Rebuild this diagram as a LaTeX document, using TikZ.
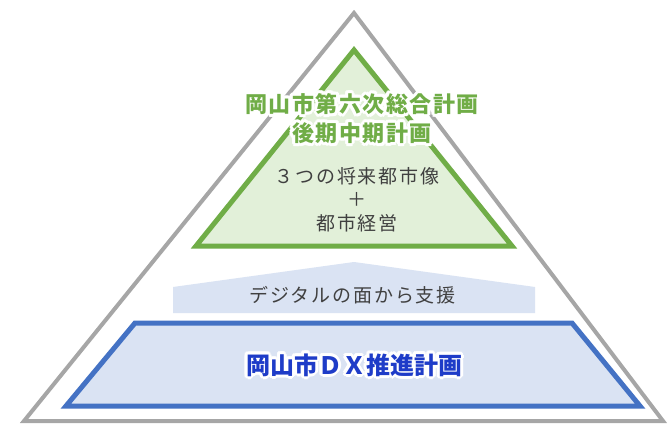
\documentclass[tikz,border=0pt]{standalone}
\usepackage{fontspec}
\newfontfamily\jp{Noto Sans CJK JP}
\begin{document}
\begin{tikzpicture}[x=1pt,y=-1pt]
\definecolor{framegray}{HTML}{A6A6A6}
\definecolor{plangreen}{HTML}{70AD47}
\definecolor{planfill}{HTML}{E2F0D9}
\definecolor{dxblue}{HTML}{4472C4}
\definecolor{dxfill}{HTML}{DAE3F3}
\definecolor{dxtext}{HTML}{1E3CC8}
\definecolor{bodytext}{HTML}{404040}
\tikzset{titlefont/.style={font = \jp\bfseries\fontsize{22}{29}\selectfont\addfontfeatures{LetterSpace=7}},
         bodyfont/.style={font = \jp\fontsize{19}{23.5}\selectfont\addfontfeatures{LetterSpace=10}},
         dxfont/.style={font = \jp\bfseries\fontsize{24}{27}\selectfont}}
\useasboundingbox (0,0) rectangle (669,425);
\draw [draw = framegray, fill = white, line width = 4] (354,13) -- (663,421) -- (24,421) -- cycle;
\draw [draw = plangreen, fill = planfill, line width = 5] (354,50) -- (512,246) -- (196,246) -- cycle;
\fill [dxfill] (173,287) -- (354,262) -- (535,287) -- (535,313) -- (173,313) -- cycle;
\draw [draw = dxblue, fill = dxfill, line width = 5] (135,323) -- (572,323) -- (640,406) -- (66,406) -- cycle;
\foreach \a in {0,30,...,330} {
  \node [text = white, align = center, titlefont, shift = {(\a:3)}] (titlehalo\a) at (362,118.5) {岡山市第六次総合計画\\後期中期計画};
  \node [text = white, dxfont, shift = {(\a:3)}] (dxhalo\a) at (354,365) {岡山市ＤＸ推進計画};
}
\node [text = plangreen, align = center, titlefont] (title) at (362,118.5) {岡山市第六次総合計画\\後期中期計画};
\node [text = bodytext, align = center, bodyfont] (vision) at (357,199.5) {３つの将来都市像\\＋\\都市経営};
\node [text = bodytext, bodyfont] (support) at (352.5,295) {デジタルの面から支援};
\node [text = dxtext, dxfont] (dxplan) at (354,365) {岡山市ＤＸ推進計画};
\end{tikzpicture}
\end{document}
